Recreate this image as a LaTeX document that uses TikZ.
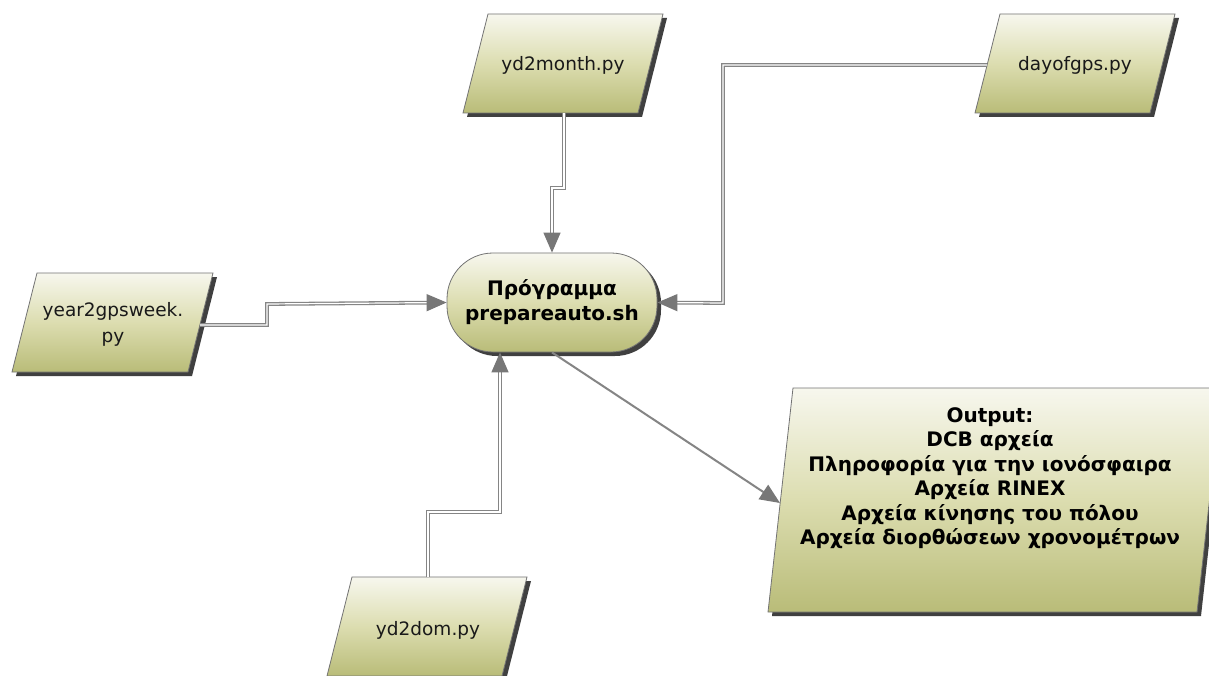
\documentclass[tikz,border=0pt]{standalone}
\usepackage{fontspec}
\setmainfont{DejaVu Sans}
\usetikzlibrary{shadows,arrows.meta,calc}
\definecolor{boxtop}{HTML}{F7F7EE}
\definecolor{boxmid}{HTML}{DCDDB0}
\definecolor{boxbot}{HTML}{B9BC78}
\definecolor{linegray}{HTML}{858585}
\definecolor{tipgray}{HTML}{777777}
\tikzset{
  boxshape/.style={draw=black!55, line width=0.8pt, top color=boxtop, bottom color=boxbot, middle color=boxmid,
    drop shadow={shadow xshift=4pt, shadow yshift=-4pt, fill=black, opacity=0.75}},
  lbl/.style={font=\fontsize{18.5}{26}\selectfont, align=center, inner sep=0pt, text=black!90},
  blbl/.style={font=\fontsize{20}{24.5}\selectfont\bfseries, align=center, inner sep=0pt, text=black},
  dconn/.style={draw=linegray, line width=1.3pt, double=white, double distance=1.2pt,
    -{Triangle[length=20pt,width=17pt,fill=tipgray,color=tipgray]}},
  sconn/.style={draw=linegray, line width=2pt, -{Triangle[length=20pt,width=17pt,fill=tipgray,color=tipgray]}},
}
\begin{document}
\begin{tikzpicture}[x=1pt,y=-1pt]
\useasboundingbox (0,0) rectangle (1209,676);
\clip (0,0) rectangle (1209,676);
\fill[white] (0,0) rectangle (1209,676);

% input boxes
\path[boxshape] (488,14) -- (663,14) -- (638,113) -- (463,113) -- cycle;
\path[boxshape] (1000,14) -- (1175,14) -- (1150,113) -- (975,113) -- cycle;
\path[boxshape] (37,273) -- (213,273) -- (188,372) -- (12,372) -- cycle;
\path[boxshape] (352,577) -- (527,577) -- (502,676) -- (327,676) -- cycle;
\path[boxshape] (793,388) -- (1222,388) -- (1197,612) -- (768,612) -- cycle;

\node[lbl] (ym) at (563,65) {yd2month.py};
\node[lbl] (dg) at (1075,65) {dayofgps.py};
\node[lbl] (yg) at (113,324) {year2gpsweek.\\py};
\node[lbl] (yd) at (428,630) {yd2dom.py};
\node[blbl] (out) at (990,478) {Output:\\DCB αρχεία\\Πληροφορία για την ιονόσφαιρα\\Αρχεία RINEX\\Αρχεία κίνησης του πόλου\\Αρχεία διορθώσεων χρονομέτρων};

% program node
\node[boxshape, rounded corners=46pt, minimum width=210pt, minimum height=99pt, inner sep=0pt,
  blbl, font=\fontsize{20}{25}\selectfont\bfseries] (prog) at (552,302.5) {Πρόγραμμα\\prepareauto.sh};

% connector end points on the parallelograms
\coordinate (ym-o) at (564,113);
\coordinate (dg-o) at (987,65);
\coordinate (yg-o) at (200,325);
\coordinate (yd-o) at (428,577);
\coordinate (out-i) at (780,503);

% connectors
\draw[dconn] (ym-o) -- (564,188) -- (552,188) -- (prog.north);
\draw[dconn] (dg-o) -- (723,65) -- (723,303) -- (prog.east);
\draw[dconn] (yg-o) -- (267,325) -- (267,304) -- (prog.west);
\draw[dconn] (yd-o) -- (428,512) -- (500,512) -- ($(prog.south)+(-52,0)$);
\draw[sconn] (prog.south) -- (out-i);
\end{tikzpicture}
\end{document}
